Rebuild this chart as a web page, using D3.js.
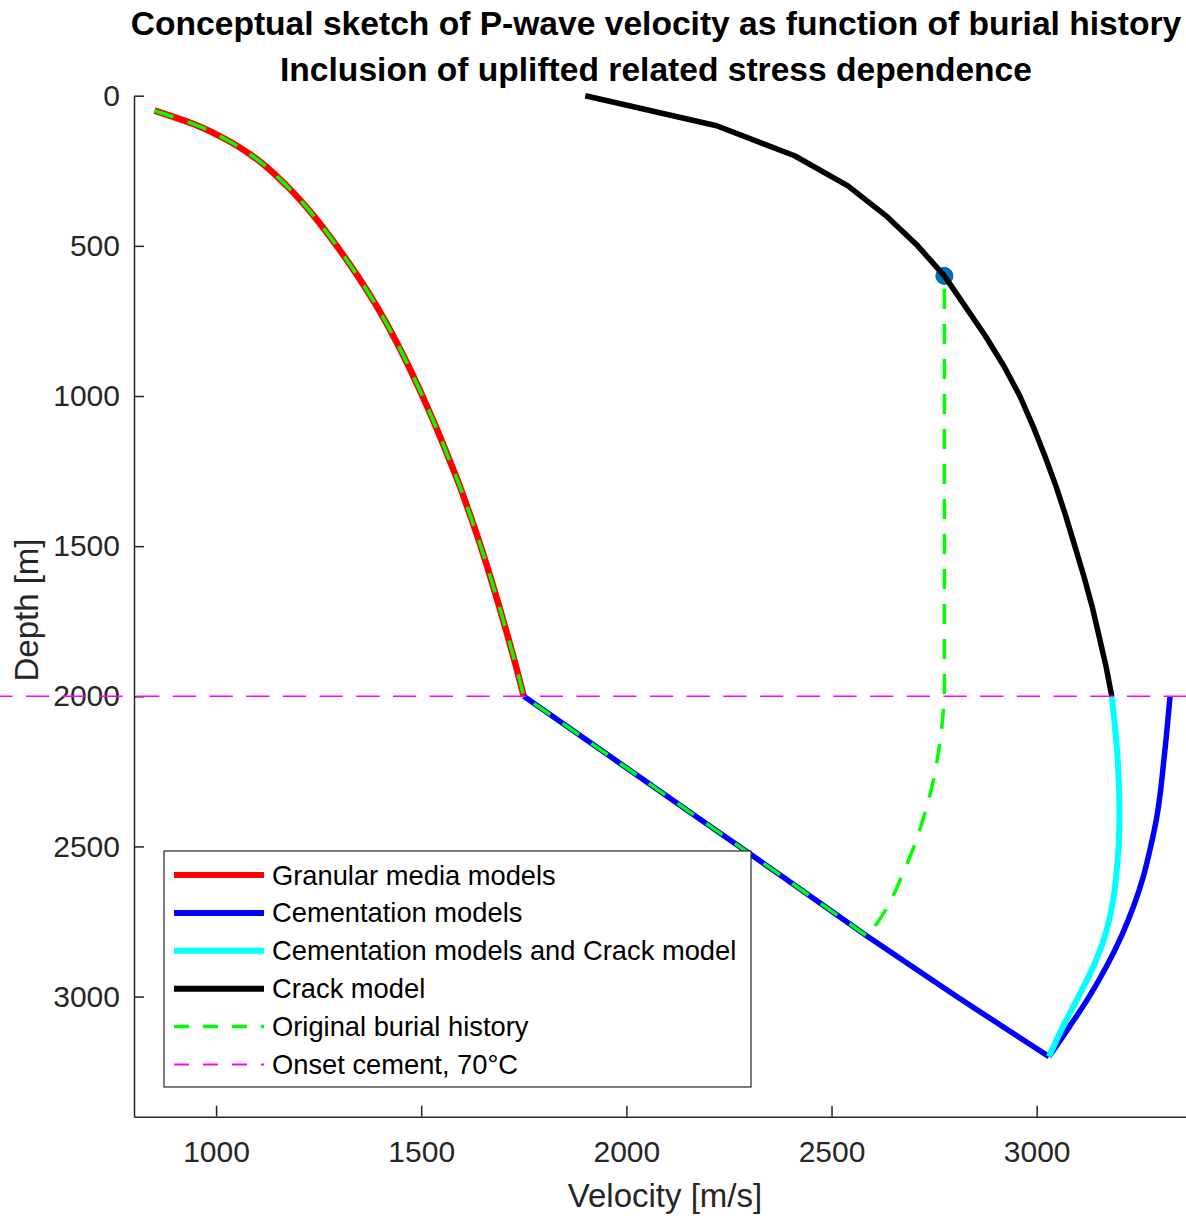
<!DOCTYPE html>
<html>
<head>
<meta charset="utf-8">
<script src="https://cdn.jsdelivr.net/npm/d3@7/dist/d3.min.js"></script>
<style>
  html, body { margin: 0; padding: 0; background: #fff; }
  svg { display: block; font-family: "Liberation Sans", Arial, Helvetica, sans-serif; }
</style>
</head>
<body>
<div id="chart"></div>
<script>
// Granular media model: velocity [m/s] vs depth [m]
const granularDepth = [50, 100, 150, 200, 300, 400, 500, 600, 700, 800, 900, 1000, 1100, 1200, 1300, 1400, 1500, 1600, 1700, 1800, 1900, 2000];
const granularVel   = [850, 955, 1030, 1088, 1172, 1238, 1294, 1345, 1391, 1432, 1469, 1503, 1535, 1565, 1594, 1620, 1645, 1668, 1690, 1711, 1731, 1750];

// Cementation model, burial below onset of cement
const cemDownDepth = [2000, 2200, 2400, 2600, 2800, 3000, 3200];
const cemDownVel   = [1750, 1960, 2170, 2380, 2588, 2805, 3030];

// Cementation model, uplift path
const cemUpDepth = [3200, 3100, 3000, 2900, 2800, 2700, 2600, 2500, 2400, 2200, 2000];
const cemUpVel   = [3030, 3080, 3128, 3170, 3206, 3236, 3260, 3278, 3293, 3311, 3325];

// Cementation + crack model, uplift path
const cemCrackDepth = [3200, 3100, 3000, 2900, 2800, 2600, 2400, 2200, 2000];
const cemCrackVel   = [3030, 3064, 3102, 3138, 3166, 3194, 3202, 3197, 3183];

// Crack model above onset of cement
const crackDepth = [0, 100, 200, 300, 400, 500, 600, 700, 800, 900, 1000, 1100, 1200, 1300, 1400, 1500, 1600, 1700, 1800, 1900, 2000];
const crackVel   = [1900, 2220, 2410, 2540, 2633, 2710, 2775, 2825, 2875, 2920, 2959, 2991, 3020, 3047, 3071, 3093, 3115, 3135, 3152, 3169, 3183];

// Original burial history: uplift leg from maximum burial back to onset depth
const returnDepth = [2800, 2700, 2600, 2500, 2400, 2300, 2200, 2100, 2000];
const returnVel   = [2588, 2637, 2671, 2701, 2725, 2745, 2759, 2769, 2775];
// Present-day position
const presentVel = [2775];
const presentDepth = [600];

// Onset of cementation (70°C)
const onsetDepth = 2000;
const onsetVelExtent = [0, 4000];

const xTicks = [1000, 1500, 2000, 2500, 3000];
const yTicks = [0, 500, 1000, 1500, 2000, 2500, 3000];

const titleLines = [
  "Conceptual sketch of P-wave velocity as function of burial history",
  "Inclusion of uplifted related stress dependence"
];

const legendItems = [
  { label: "Granular media models", color: "#ff0000", width: 6, dash: null },
  { label: "Cementation models", color: "#0000ff", width: 6, dash: null },
  { label: "Cementation models and Crack model", color: "#00ffff", width: 6, dash: null },
  { label: "Crack model", color: "#000000", width: 6, dash: null },
  { label: "Original burial history", color: "#00ff00", width: 3.5, dash: "15,14" },
  { label: "Onset cement, 70°C", color: "#ff00ff", width: 2, dash: "15,14" }
];

const W = 1186, H = 1216;
const svg = d3.select("#chart").append("svg").attr("width", W).attr("height", H);

const x = d3.scaleLinear().domain([800, 3400]).range([134, 1200.8]);
const y = d3.scaleLinear().domain([0, 3400]).range([95.7, 1116.7]);

const zip = (vs, ds) => vs.map((v, i) => [v, ds[i]]);
const line = d3.line().x(d => x(d[0])).y(d => y(d[1]));
const smooth = d3.line().x(d => x(d[0])).y(d => y(d[1])).curve(d3.curveMonotoneY);

// sort by depth so the monotone curve sees increasing y
const byDepth = pts => pts.slice().sort((a, b) => a[1] - b[1]);

// axes
const axisColor = "#262626";
const fmt = d3.format("d");
const xAxis = d3.axisBottom(x).tickValues(xTicks).tickFormat(fmt).tickSizeInner(-11).tickSizeOuter(0).tickPadding(24);
const yAxis = d3.axisLeft(y).tickValues(yTicks).tickFormat(fmt).tickSizeInner(-10).tickSizeOuter(0).tickPadding(14);

const gx = svg.append("g").attr("transform", `translate(0,${y(3400)})`).call(xAxis);
const gy = svg.append("g").attr("transform", `translate(${x(800)},0)`).call(yAxis);
[gx, gy].forEach(g => {
  g.select(".domain").attr("stroke", axisColor).attr("stroke-width", 1.5);
  g.selectAll(".tick line").attr("stroke", axisColor).attr("stroke-width", 1.5);
  g.selectAll(".tick text").attr("fill", axisColor).style("font-size", "30px")
    .style("font-family", "'Liberation Sans', Arial, Helvetica, sans-serif");
});

// axis labels
svg.append("text").attr("x", 665).attr("y", 1207).attr("text-anchor", "middle")
  .attr("fill", axisColor).style("font-size", "33px").text("Velocity [m/s]");
svg.append("text").attr("transform", "translate(38,610) rotate(-90)").attr("text-anchor", "middle")
  .attr("fill", axisColor).style("font-size", "33px").text("Depth [m]");

// title
svg.selectAll("text.title").data(titleLines).enter().append("text")
  .attr("class", "title")
  .attr("x", 656).attr("y", (d, i) => 35 + i * 46)
  .attr("text-anchor", "middle").attr("fill", "#000")
  .style("font-size", "33.6px").style("font-weight", "bold")
  .text(d => d);

const plot = svg.append("g");

// present-day marker
plot.selectAll("circle.present").data(zip(presentVel, presentDepth)).enter().append("circle")
  .attr("cx", d => x(d[0])).attr("cy", d => y(d[1])).attr("r", 8.5)
  .attr("fill", "#0072bd").attr("stroke", "#005a96").attr("stroke-width", 1);

function drawPath(d, color, width, dash) {
  const p = plot.append("path").attr("d", d)
    .attr("fill", "none").attr("stroke", color).attr("stroke-width", width)
    .attr("stroke-linejoin", "round");
  if (dash) p.attr("stroke-dasharray", dash);
  return p;
}

const granularPts = zip(granularVel, granularDepth);
const cemDownPts = zip(cemDownVel, cemDownDepth);
const returnPts = zip(returnVel, returnDepth);

drawPath(smooth(granularPts), "#ff0000", 6.5);
drawPath(line(cemDownPts), "#0000ff", 5.5);
drawPath(smooth(byDepth(zip(cemUpVel, cemUpDepth))), "#0000ff", 5.5);
drawPath(smooth(byDepth(zip(cemCrackVel, cemCrackDepth))), "#00ffff", 6);
drawPath(line(zip(crackVel, crackDepth)), "#000000", 5.5);

// burial history as one continuous path:
// granular -> cementation to maximum burial -> uplift to onset depth -> uplift to present depth
const toMax = cemDownPts.filter(p => p[1] <= 2800);
const upliftLeg = byDepth(returnPts).reverse();  // from 2800 m up to 2000 m
const burialD = smooth(granularPts)
  + line(toMax).replace(/^M/, "L")
  + smooth(upliftLeg).replace(/^M/, "L")
  + line([[presentVel[0], onsetDepth], [presentVel[0], presentDepth[0]]]).replace(/^M/, "L");
drawPath(burialD, "#00ff00", 3.5, "20,15");

drawPath(line(zip(onsetVelExtent, [onsetDepth, onsetDepth])), "#ff00ff", 1.5, "23.3,13.4");

// legend
const lg = svg.append("g");
lg.append("rect").attr("x", 164).attr("y", 851).attr("width", 587).attr("height", 236)
  .attr("fill", "#fff").attr("stroke", axisColor).attr("stroke-width", 1.2);
legendItems.forEach((it, i) => {
  const cy = 875 + i * 37.9;
  const l = lg.append("line").attr("x1", 174).attr("x2", 264).attr("y1", cy).attr("y2", cy)
    .attr("stroke", it.color).attr("stroke-width", it.width);
  if (it.dash) l.attr("stroke-dasharray", it.dash);
  lg.append("text").attr("x", 272).attr("y", cy).attr("dy", "0.35em")
    .attr("fill", "#000").style("font-size", "27.3px").text(it.label);
});
</script>
</body>
</html>
